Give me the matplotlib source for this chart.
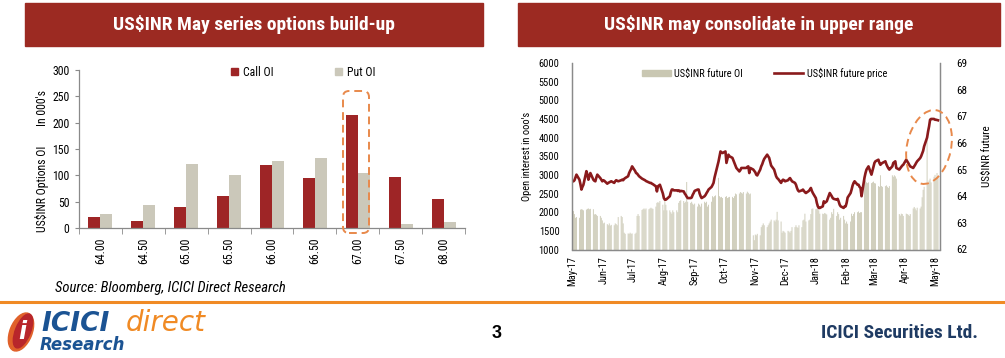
import numpy as np
import pandas as pd
import matplotlib
matplotlib.use("Agg")
import matplotlib.pyplot as plt
import matplotlib.font_manager as fm
from matplotlib.patches import Rectangle, Ellipse, FancyBboxPatch, Patch
from matplotlib.lines import Line2D

# ---- left chart: May series option build-up (in 000's)
strikes = ["64.00", "64.50", "65.00", "65.50", "66.00", "66.50", "67.00", "67.50", "68.00"]
call_oi = [20, 13, 40, 61, 120, 95, 215, 97, 56]
put_oi = [27, 44, 121, 100, 128, 133, 104, 7, 11]

# ---- right chart: daily (weekday) values from Mon 1-May-2017, one week per row
future_oi = [
    2000, 2030, 1950, 1850, 1870,
    1850, 2070, 2080, 2070, 2050,
    2070, 2090, 2100, 2080, 2090,
    2080, 1940, 1950, 1930, 1900,
    1900, 1850, 1780, 1700, 1720,
    1680, 1650, 1700, 1640, 1660,
    1650, 1700, 1680, 1650, 1870,
    1900, 1870, 1700, 1450, 1420,
    1430, 1420, 1450, 1420, 1430,
    1420, 1450, 1900, 1950, 1900,
    2060, 2080, 2100, 2070, 2100,
    2080, 2100, 2120, 2100, 2090,
    2150, 2250, 2270, 2250, 2300,
    2200, 2050, 2300, 2200, 2050,
    2050, 2000, 1960, 2050, 2000,
    2050, 2000, 2250, 2300, 2320,
    2300, 2250, 2280, 2810, 2280,
    2250, 2280, 2230, 2200, 2230,
    2150, 2230, 2200, 2150, 2230,
    2280, 2250, 2280, 2150, 2200,
    2280, 2430, 2400, 2430, 2450,
    2920, 2430, 2400, 2410, 2380,
    2410, 2430, 2380, 2400, 2410,
    2410, 2380, 2430, 2500, 2480,
    2500, 2540, 2520, 2500, 2540,
    2500, 2550, 2520, 2480, 2500,
    1380, 1250, 1400, 1380, 1420,
    1380, 1600, 1650, 1700, 1650,
    1600, 1650, 1700, 1750, 1800,
    1780, 1750, 1800, 2010, 1780,
    1750, 1450, 1500, 1480, 1450,
    1500, 1480, 1450, 1500, 1600,
    1600, 1650, 1600, 1580, 1650,
    1600, 1780, 1800, 1960, 1750,
    1780, 1800, 1950, 2090, 2100,
    2080, 2090, 2100, 2050, 1960,
    1960, 1950, 1980, 1960, 1940,
    1800, 1850, 2000, 1950, 2090,
    1900, 2000, 1950, 1800, 1850,
    1900, 1800, 1700, 1750, 1690,
    1750, 1960, 1900, 1950, 2000,
    2000, 2020, 1980, 2000, 2000,
    2850, 2850, 2800, 2780, 2800,
    2780, 2800, 2820, 2780, 2770,
    2700, 2680, 2990, 2700, 2680,
    2700, 2720, 2680, 2650, 2700,
    2990, 2950, 2990, 2960, 2900,
    1950, 1910, 1960, 1950, 1900,
    1960, 1950, 1930, 1900, 1950,
    2100, 2140, 2100, 2050, 2120,
    2100, 2150, 2400, 2600, 2680,
    3930, 2750, 2850, 2900, 2800,
    2950, 3000, 2900, 3050, 2950,
]
future_price = [
    64.56, 64.56, 64.60, 64.70, 64.81,
    64.62, 64.45, 64.25, 64.35, 64.43,
    64.94, 64.81, 64.62, 64.75, 64.87,
    64.62, 64.58, 64.56, 64.70, 64.81,
    64.68, 64.62, 64.56, 64.60, 64.58,
    64.47, 64.50, 64.52, 64.54, 64.56,
    64.50, 64.56, 64.60, 64.58, 64.56,
    64.60, 64.62, 64.60, 64.65, 64.68,
    64.75, 64.87, 64.95, 65.02, 65.12,
    64.95, 64.87, 64.85, 64.80, 64.75,
    64.66, 64.64, 64.62, 64.60, 64.57,
    64.52, 64.50, 64.50, 64.47, 64.45,
    64.37, 64.18, 64.37, 64.40, 64.43,
    64.10, 63.93, 63.87, 63.87, 63.90,
    64.00, 64.15, 64.25, 64.25, 64.22,
    64.22, 64.20, 64.22, 64.18, 64.20,
    64.18, 64.10, 64.05, 63.98, 63.93,
    63.93, 63.95, 64.05, 64.12, 64.20,
    64.25, 64.25, 64.10, 64.00, 63.93,
    64.00, 64.05, 64.12, 64.18, 64.25,
    64.35, 64.42, 64.50, 64.70, 64.85,
    65.30, 65.50, 65.68, 65.65, 65.62,
    65.68, 65.25, 65.40, 65.56, 65.50,
    65.44, 65.35, 65.25, 65.15, 65.06,
    64.93, 64.98, 65.06, 65.06, 65.06,
    65.06, 65.10, 65.12, 64.87, 65.06,
    65.00, 64.95, 64.90, 64.81, 64.78,
    65.00, 65.12, 65.20, 65.31, 65.40,
    65.56, 65.50, 65.44, 65.30, 65.15,
    65.00, 64.87, 64.75, 64.68, 64.65,
    64.50, 64.58, 64.62, 64.60, 64.56,
    64.60, 64.65, 64.68, 64.62, 64.56,
    64.50, 64.43, 64.31, 64.22, 64.18,
    64.22, 64.25, 64.20, 64.15, 64.12,
    64.20, 64.25, 64.31, 64.20, 64.12,
    63.93, 63.75, 63.62, 63.56, 63.56,
    63.62, 63.81, 63.75, 63.78, 63.81,
    64.12, 64.06, 64.00, 63.93, 63.90,
    63.87, 63.90, 63.80, 63.68, 63.62,
    63.56, 63.62, 63.62, 63.75, 63.95,
    64.12, 64.25, 64.40, 64.50, 64.56,
    64.43, 64.43, 64.35, 64.31, 64.00,
    64.70, 64.87, 65.00, 65.06, 65.12,
    64.81, 64.95, 65.10, 65.25, 65.31,
    65.37, 65.25, 65.18, 65.22, 65.25,
    65.31, 65.20, 65.12, 65.05, 65.00,
    65.12, 65.25, 65.28, 65.31, 65.06,
    65.00, 65.05, 65.10, 65.15, 65.18,
    65.37, 65.31, 65.25, 65.18, 65.12,
    65.06, 65.12, 65.18, 65.25, 65.31,
    65.43, 65.50, 65.60, 65.70, 65.87,
    66.20, 66.43, 66.62, 66.87, 66.90,
    66.90, 66.87, 66.87, 66.86, 66.85,
]

# colours
TITLE_RED = "#9C2A22"
CALL_RED = "#9E2526"
PUT_GREY = "#CBC8BA"
OI_GREY = "#C9C7B2"
PRICE_RED = "#8A1A1C"
AXIS_GREY = "#8A8A8A"
ORANGE = "#E8894B"
ICICI_BLUE = "#1B5393"
ICICI_ORANGE = "#F08A24"

# pick a narrow font when there is one
_names = {f.name for f in fm.fontManager.ttflist}
NARROW = "Liberation Sans"
k = 0.84
for cand in ["Liberation Sans Narrow", "Arial Narrow", "Roboto Condensed", "Open Sans Condensed"]:
    if cand in _names:
        NARROW, k = cand, 1.0
        break

plt.rcParams["font.family"] = NARROW
plt.rcParams["axes.linewidth"] = 0.9

W, H = 1005, 358
fig = plt.figure(figsize=(W / 100, H / 100), dpi=100)


def fx(px):
    return px / W


def fy(py):
    return 1 - py / H


# title bars
for x0, x1, title in [(25, 483, "US$INR May series options build-up"),
                      (518, 1000, "US$INR may consolidate in upper range")]:
    fig.add_artist(Rectangle((fx(x0), fy(46)), fx(x1) - fx(x0), 43 / H,
                             transform=fig.transFigure, color=TITLE_RED, zorder=0))
    fig.text(fx((x0 + x1) / 2), fy(25), title, color="white", fontsize=14 * k,
             fontweight="bold", ha="center", va="center")

# ---------------- left chart ----------------
ax1 = fig.add_axes([fx(79), fy(228), 386 / W, 158 / H])
x = np.arange(len(strikes))
ax1.bar(x - 0.14, call_oi, width=0.28, color=CALL_RED)
ax1.bar(x + 0.14, put_oi, width=0.28, color=PUT_GREY)
ax1.set_xlim(-0.5, len(strikes) - 0.5)
ax1.set_ylim(0, 300)
ax1.set_yticks(range(0, 301, 50))
ax1.set_xticks(x)
ax1.set_xticklabels(strikes, rotation=90)
ax1.set_xticks(np.arange(-0.5, len(strikes)), minor=True)
ax1.tick_params(axis="x", which="major", length=0, pad=7, labelsize=8.5 * k)
ax1.tick_params(axis="x", which="minor", length=4, color=AXIS_GREY, direction="out")
ax1.tick_params(axis="y", length=3, color=AXIS_GREY, pad=4, labelsize=8.5 * k)
for s in ["top", "right"]:
    ax1.spines[s].set_visible(False)
for s in ["left", "bottom"]:
    ax1.spines[s].set_color(AXIS_GREY)

fig.text(fx(42), fy(189), "US$INR Options OI", rotation=90, fontsize=8.5 * k,
         ha="center", va="center")
fig.text(fx(42), fy(108), "In 000's", rotation=90, fontsize=8.5 * k,
         ha="center", va="center")

ax1.legend(handles=[Patch(color=CALL_RED, label="Call OI"), Patch(color=PUT_GREY, label="Put OI")],
           loc="center left", bbox_to_anchor=(fx(231), fy(72)), bbox_transform=fig.transFigure,
           ncol=2, frameon=False, fontsize=8.5 * k, handlelength=0.6, handleheight=0.6,
           handletextpad=0.4, columnspacing=5.2, borderpad=0, borderaxespad=0)

fig.add_artist(FancyBboxPatch((3.45, 1.27), 0.22, 1.38, boxstyle="round,pad=0.02,rounding_size=0.06",
                              transform=fig.dpi_scale_trans, fill=False, edgecolor=ORANGE,
                              linestyle=(0, (4, 2.5)), linewidth=1.4))

fig.text(fx(55), fy(288), "Source: Bloomberg, ICICI Direct Research", fontsize=10.5 * k,
         style="italic", ha="left", va="center")

# ---------------- right chart ----------------
days = pd.bdate_range("2017-05-01", periods=len(future_oi))
ax2 = fig.add_axes([fx(572), fy(249.5), 368 / W, 186.5 / H])
ax2.bar(days, future_oi, width=0.85, color=OI_GREY, linewidth=0, snap=False,
        label="US$INR future OI")
ax2.set_ylim(1000, 6000)
ax2.set_yticks(range(1000, 6001, 500))
ax2.set_xlim(pd.Timestamp("2017-04-30 12:00"), pd.Timestamp("2018-05-06"))
months = pd.date_range("2017-05-01", "2018-05-01", freq="MS")
ax2.set_xticks(months)
ax2.set_xticklabels([m.strftime("%b-%y") for m in months], rotation=90)
ax2.tick_params(axis="x", length=0, pad=5, labelsize=7.5 * k)
ax2.tick_params(axis="y", length=0, pad=9, labelsize=7.5 * k)
ax2.set_ylabel("Open interest in ooo's", fontsize=7.5 * k, labelpad=5)

ax3 = ax2.twinx()
ax3.plot(days, future_price, color=PRICE_RED, linewidth=1.9, label="US$INR future price")
ax3.set_ylim(62, 69)
ax3.set_yticks(range(62, 70))
ax3.tick_params(axis="y", length=0, pad=12, labelsize=8 * k)
ax3.set_ylabel("US$INR future", fontsize=8 * k, labelpad=10)

for a in (ax2, ax3):
    a.spines["top"].set_visible(False)
    for s in ["left", "right", "bottom"]:
        a.spines[s].set_color(AXIS_GREY)

ax3.legend(handles=[Patch(color=OI_GREY, label="US$INR future OI"),
                    Line2D([], [], color=PRICE_RED, linewidth=1.9, label="US$INR future price")],
           loc="center left", bbox_to_anchor=(fx(642), fy(73)), bbox_transform=fig.transFigure,
           ncol=2, frameon=False, fontsize=7.5 * k, handlelength=2.8, handleheight=0.45,
           handletextpad=0.3, columnspacing=3.0, borderpad=0, borderaxespad=0)

fig.add_artist(Ellipse((9.29, 2.11), 0.44, 0.75, angle=-12, transform=fig.dpi_scale_trans,
                       fill=False, edgecolor=ORANGE, linestyle=(0, (4, 2.5)), linewidth=1.4))

# ---------------- footer ----------------
fig.add_artist(Line2D([0, fx(1003)], [fy(302), fy(302)], transform=fig.transFigure,
                      color=ICICI_ORANGE, linewidth=2.2))

fig.add_artist(Ellipse((0.21, 0.26), 0.22, 0.40, angle=-22, transform=fig.dpi_scale_trans,
                       color="#E0612A"))
fig.add_artist(Ellipse((0.23, 0.27), 0.15, 0.36, angle=-22, transform=fig.dpi_scale_trans,
                       color="#B8262B"))
fig.text(fx(22), fy(332), "i", color="white", fontsize=17, fontweight="bold", style="italic",
         family="DejaVu Sans", ha="center", va="center")
fig.text(fx(41), fy(324), "ICICI", color=ICICI_BLUE, fontsize=19, fontweight="heavy",
         style="italic", family="DejaVu Sans", ha="left", va="center")
fig.text(fx(126), fy(323), "direct", color=ICICI_ORANGE, fontsize=20, style="italic",
         family="DejaVu Sans", ha="left", va="center")
fig.text(fx(40), fy(345), "Research", color=ICICI_BLUE, fontsize=12, fontweight="bold",
         style="italic", family="DejaVu Sans", ha="left", va="center")
fig.text(fx(497), fy(333), "3", fontsize=13, fontweight="bold", family="Liberation Sans",
         ha="center", va="center")
fig.text(fx(978), fy(333), "ICICI Securities Ltd.", color="#1F3B63", fontsize=14 * k,
         fontweight="bold", ha="right", va="center")

fig.savefig("out.png", dpi=100)
